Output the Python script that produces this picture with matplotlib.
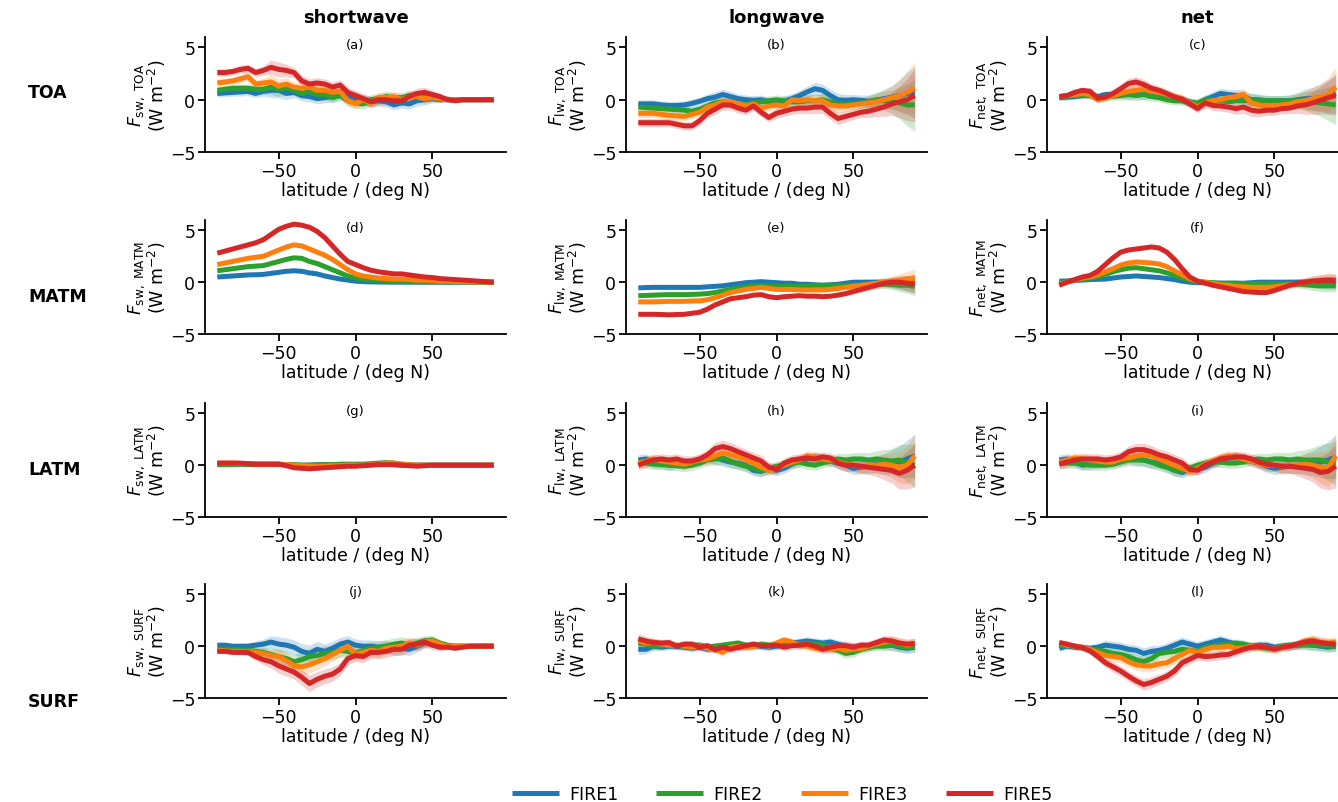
import matplotlib
matplotlib.use("Agg")
import matplotlib.pyplot as plt
import numpy as np

# ---------------- data ----------------
lat = list(range(-90, 91, 5))
series = ["FIRE1", "FIRE2", "FIRE3", "FIRE5"]
colors = ["#1f77b4", "#2ca02c", "#ff7f0e", "#d62728"]
columns = ["shortwave", "longwave", "net"]
rows = ["TOA", "MATM", "LATM", "SURF"]
comp_short = ["sw", "lw", "net"]
panel_letters = ["a", "b", "c", "d", "e", "f", "g", "h", "i", "j", "k", "l"]
yticks = [-5, 0, 5]
xticks = [-50, 0, 50]

# (a) SW TOA
a_F1 = [0.6,0.65,0.7,0.75,0.8,0.6,0.8,0.9,0.9,0.6,0.7,0.4,0.3,0.1,0.2,0.3,0.5,0.3,0.2,0.0,-0.2,-0.1,-0.2,-0.5,-0.3,-0.4,-0.1,0.0,0.1,0.0,0.0,0.0,0.0,0.0,0.0,0.0,0.0]
a_F2 = [0.9,1.0,1.1,1.1,1.1,1.0,1.0,1.2,1.0,1.1,0.9,0.6,0.8,0.5,0.5,0.2,0.4,-0.1,-0.3,-0.4,0.0,0.1,0.3,0.2,0.2,0.4,0.3,0.3,0.2,0.1,0.05,0.0,0.0,0.0,0.0,0.0,0.0]
a_F3 = [1.6,1.7,1.8,2.0,2.2,1.5,1.6,1.7,1.3,1.5,1.2,1.1,1.2,0.9,0.9,0.7,0.8,-0.1,-0.4,0.0,-0.3,0.2,0.2,0.3,0.0,0.3,0.3,0.1,0.2,0.1,0.0,0.0,0.0,0.0,0.0,0.0,0.0]
a_F5 = [2.6,2.6,2.7,2.9,3.0,2.6,2.8,3.1,2.9,2.8,2.6,1.8,1.5,1.6,1.5,1.2,1.4,0.7,0.4,0.1,-0.2,0.0,0.0,-0.1,-0.1,0.3,0.6,0.7,0.5,0.3,0.0,-0.1,0.0,0.0,0.0,0.0,0.0]
a_spread = [0.35,0.35,0.35,0.4,0.4,0.4,0.45,0.7,0.7,0.6,0.5,0.5,0.5,0.5,0.5,0.5,0.5,0.5,0.5,0.5,0.5,0.5,0.5,0.5,0.5,0.5,0.5,0.5,0.4,0.3,0.15,0.08,0.04,0.02,0.02,0.02,0.02]

# (b) LW TOA
b_F1 = [-0.4,-0.4,-0.4,-0.5,-0.55,-0.55,-0.5,-0.35,-0.15,0.1,0.25,0.5,0.3,0.1,0.0,-0.05,0.0,-0.2,-0.4,-0.15,0.1,0.4,0.75,1.05,0.9,0.4,0.0,-0.05,0.0,-0.05,-0.15,-0.05,0.1,0.25,0.4,0.6,0.7]
b_F2 = [-0.7,-0.75,-0.8,-0.85,-0.9,-0.95,-1.0,-1.1,-0.9,-0.6,-0.3,-0.2,-0.3,-0.4,-0.5,-0.3,-0.2,-0.1,0.0,-0.1,-0.2,-0.2,-0.1,-0.1,0.0,-0.2,-0.4,-0.4,-0.4,-0.3,-0.2,0.0,-0.1,-0.2,-0.3,-0.5,-0.5]
b_F3 = [-1.3,-1.3,-1.3,-1.4,-1.5,-1.55,-1.6,-1.4,-1.2,-0.7,-0.5,-0.2,-0.2,-0.4,-0.6,-0.4,-0.8,-0.6,-0.5,-0.6,0.0,-0.1,0.0,-0.1,-0.1,-0.5,-0.6,-0.6,-0.5,-0.4,-0.3,-0.2,0.0,0.2,0.4,0.7,1.1]
b_F5 = [-2.2,-2.2,-2.2,-2.2,-2.2,-2.35,-2.5,-2.5,-2.0,-1.3,-0.9,-0.5,-0.5,-0.8,-1.0,-0.6,-1.2,-1.7,-1.3,-1.1,-0.9,-0.8,-0.8,-0.7,-0.7,-1.3,-1.8,-1.6,-1.4,-1.2,-1.1,-0.9,-0.7,-0.4,-0.2,0.0,0.4]
b_spread = [0.4,0.4,0.4,0.4,0.4,0.4,0.4,0.4,0.4,0.45,0.5,0.5,0.5,0.45,0.45,0.45,0.45,0.45,0.45,0.5,0.5,0.5,0.55,0.6,0.6,0.6,0.6,0.55,0.5,0.5,0.6,0.7,0.9,1.1,1.5,2.0,2.5]

# (c) net TOA
c_F1 = [0.2,0.25,0.3,0.4,0.5,0.3,0.5,0.5,0.6,0.5,0.6,0.5,0.6,0.4,0.3,0.1,0.0,-0.2,-0.4,0.0,0.3,0.6,0.5,0.4,0.3,0.0,0.0,-0.1,-0.1,-0.1,-0.1,0.0,0.1,0.1,0.2,0.3,0.6]
c_F2 = [0.3,0.35,0.4,0.4,0.4,0.1,0.3,0.35,0.4,0.5,0.4,0.5,0.3,0.2,0.0,-0.1,-0.1,-0.3,-0.3,0.0,0.0,-0.1,-0.2,-0.1,-0.1,0.0,-0.1,-0.1,-0.1,-0.1,-0.1,-0.1,-0.1,-0.2,-0.3,-0.4,-0.5]
c_F3 = [0.3,0.4,0.5,0.6,0.5,0.0,0.2,0.4,0.6,0.8,0.9,1.0,0.8,0.7,0.5,0.3,0.1,-0.3,-0.7,-0.3,-0.1,0.0,0.2,0.3,0.5,-0.3,-0.5,-0.6,-0.6,-0.5,-0.4,-0.2,-0.1,0.1,0.2,0.5,1.2]
c_F5 = [0.3,0.4,0.7,0.9,0.8,0.15,0.25,0.6,1.05,1.55,1.7,1.45,1.1,0.9,0.6,0.25,0.05,-0.4,-0.85,-0.3,-0.55,-0.6,-0.7,-0.85,-0.7,-1.0,-1.1,-1.0,-1.0,-0.85,-0.8,-0.6,-0.5,-0.3,-0.05,0.2,0.4]
c_spread = [0.3,0.3,0.3,0.3,0.35,0.35,0.35,0.4,0.45,0.5,0.5,0.5,0.45,0.4,0.4,0.4,0.4,0.4,0.4,0.45,0.5,0.5,0.5,0.55,0.6,0.6,0.55,0.5,0.5,0.5,0.55,0.7,0.9,1.1,1.3,1.6,1.9]

# (d) SW MATM
d_F1 = [0.5,0.55,0.6,0.65,0.7,0.72,0.75,0.85,0.95,1.05,1.1,1.05,0.9,0.8,0.6,0.45,0.3,0.2,0.1,0.05,0.03,0.02,0.01,0.0,0.0,0.0,0.0,0.0,0.0,0.0,0.0,0.0,0.0,0.0,0.0,0.0,0.0]
d_F2 = [1.1,1.2,1.3,1.4,1.5,1.55,1.6,1.8,2.0,2.2,2.35,2.3,2.0,1.8,1.5,1.2,0.9,0.6,0.4,0.3,0.2,0.2,0.15,0.1,0.08,0.06,0.05,0.04,0.03,0.02,0.02,0.01,0.01,0.0,0.0,0.0,0.0]
d_F3 = [1.7,1.85,2.0,2.15,2.3,2.4,2.5,2.8,3.1,3.4,3.6,3.5,3.2,2.9,2.6,2.2,1.7,1.2,0.8,0.6,0.5,0.4,0.35,0.3,0.3,0.25,0.2,0.2,0.15,0.1,0.1,0.07,0.05,0.03,0.02,0.01,0.0]
d_F5 = [2.8,3.0,3.2,3.4,3.6,3.8,4.1,4.6,5.1,5.4,5.6,5.5,5.3,4.9,4.3,3.5,2.7,2.0,1.7,1.4,1.15,1.0,0.9,0.8,0.8,0.7,0.6,0.5,0.45,0.35,0.3,0.25,0.2,0.15,0.1,0.05,0.0]
d_spread = [0.15,0.15,0.15,0.15,0.15,0.15,0.15,0.15,0.15,0.15,0.15,0.15,0.15,0.15,0.15,0.15,0.15,0.15,0.15,0.12,0.1,0.1,0.08,0.08,0.06,0.06,0.05,0.05,0.05,0.05,0.05,0.05,0.05,0.05,0.05,0.05,0.05]

# (e) LW MATM
e_F1 = [-0.55,-0.52,-0.5,-0.5,-0.5,-0.5,-0.5,-0.5,-0.5,-0.45,-0.4,-0.35,-0.25,-0.15,-0.05,0.0,0.05,0.0,-0.05,-0.1,-0.1,-0.2,-0.2,-0.25,-0.3,-0.25,-0.2,-0.1,0.0,0.0,0.0,0.0,0.0,-0.05,-0.1,-0.1,-0.1]
e_F2 = [-1.3,-1.28,-1.25,-1.22,-1.2,-1.2,-1.2,-1.18,-1.15,-1.1,-1.0,-0.85,-0.7,-0.55,-0.45,-0.35,-0.3,-0.35,-0.4,-0.4,-0.4,-0.4,-0.35,-0.3,-0.3,-0.3,-0.3,-0.3,-0.3,-0.3,-0.25,-0.2,-0.2,-0.2,-0.3,-0.3,-0.4]
e_F3 = [-1.9,-1.9,-1.9,-1.88,-1.85,-1.85,-1.85,-1.82,-1.8,-1.7,-1.5,-1.25,-1.0,-0.85,-0.7,-0.6,-0.5,-0.6,-0.7,-0.7,-0.7,-0.75,-0.75,-0.75,-0.75,-0.7,-0.6,-0.5,-0.4,-0.3,-0.2,-0.1,0.0,0.1,0.2,0.3,0.35]
e_F5 = [-3.1,-3.1,-3.1,-3.12,-3.15,-3.12,-3.1,-3.0,-2.9,-2.6,-2.2,-1.9,-1.6,-1.5,-1.4,-1.25,-1.2,-1.4,-1.5,-1.4,-1.35,-1.3,-1.35,-1.35,-1.4,-1.35,-1.25,-1.1,-0.9,-0.7,-0.5,-0.3,-0.1,0.0,0.0,-0.1,-0.2]
e_spread = [0.1,0.1,0.1,0.1,0.1,0.1,0.1,0.1,0.1,0.1,0.12,0.12,0.12,0.12,0.12,0.12,0.12,0.12,0.15,0.15,0.15,0.15,0.15,0.15,0.15,0.18,0.2,0.22,0.25,0.28,0.3,0.35,0.4,0.5,0.6,0.75,0.9]

# (f) net MATM
f_F1 = [0.1,0.12,0.15,0.2,0.25,0.28,0.3,0.4,0.5,0.55,0.6,0.55,0.5,0.45,0.35,0.25,0.1,0.0,-0.05,-0.05,-0.1,-0.1,-0.1,-0.1,-0.1,-0.05,0.0,0.0,0.0,0.0,0.0,0.0,0.0,-0.05,-0.1,-0.1,-0.1]
f_F2 = [-0.1,0.05,0.2,0.3,0.4,0.5,0.75,1.0,1.2,1.35,1.4,1.3,1.2,1.1,0.9,0.65,0.4,0.2,0.05,0.0,-0.05,-0.1,-0.1,-0.1,-0.15,-0.15,-0.15,-0.15,-0.15,-0.15,-0.2,-0.2,-0.25,-0.3,-0.35,-0.35,-0.35]
f_F3 = [-0.2,0.0,0.2,0.4,0.5,0.7,1.0,1.3,1.65,1.85,1.95,1.9,1.85,1.75,1.5,1.1,0.7,0.35,0.1,0.0,-0.15,-0.25,-0.3,-0.4,-0.45,-0.5,-0.5,-0.5,-0.45,-0.35,-0.25,-0.15,0.0,0.1,0.2,0.25,0.25]
f_F5 = [-0.3,0.0,0.25,0.5,0.65,1.05,1.7,2.35,2.9,3.1,3.2,3.3,3.4,3.3,2.9,2.2,1.3,0.5,0.1,-0.1,-0.3,-0.45,-0.6,-0.75,-0.9,-0.95,-1.0,-1.0,-0.8,-0.55,-0.3,-0.1,0.0,0.1,0.15,0.2,0.15]
f_spread = [0.1,0.1,0.1,0.1,0.1,0.1,0.1,0.1,0.12,0.12,0.12,0.12,0.12,0.12,0.12,0.12,0.12,0.12,0.12,0.12,0.12,0.12,0.12,0.12,0.15,0.15,0.15,0.18,0.2,0.25,0.3,0.35,0.4,0.5,0.55,0.6,0.6]

# (g) SW LATM
g_F1 = [0.1,0.1,0.1,0.1,0.05,0.05,0.05,0.05,0.05,0.05,0.0,0.0,0.0,0.05,0.05,0.05,0.05,0.0,0.0,0.0,0.05,0.1,0.1,0.05,0.0,0.0,0.0,0.0,0.0,0.0,0.0,0.0,0.0,0.0,0.0,0.0,0.0]
g_F2 = [0.05,0.05,0.05,0.1,0.1,0.1,0.1,0.1,0.1,0.05,0.05,0.0,0.0,0.0,0.05,0.05,0.1,0.1,0.1,0.1,0.15,0.2,0.25,0.2,0.1,0.05,0.0,0.0,0.0,0.0,0.0,0.0,0.0,0.0,0.0,0.0,0.0]
g_F3 = [0.2,0.2,0.2,0.15,0.15,0.1,0.1,0.1,0.1,0.05,0.0,-0.05,-0.1,-0.1,-0.1,-0.05,-0.05,0.0,0.0,0.0,0.05,0.1,0.2,0.2,0.1,0.05,0.0,0.0,0.0,0.0,0.0,0.0,0.0,0.0,0.0,0.0,0.0]
g_F5 = [0.2,0.2,0.2,0.2,0.15,0.1,0.1,0.1,0.1,-0.05,-0.25,-0.3,-0.35,-0.3,-0.25,-0.2,-0.15,-0.1,-0.1,-0.05,0.0,0.05,0.05,0.05,0.0,-0.05,-0.1,-0.05,0.0,0.0,0.0,0.0,0.0,0.0,0.0,0.0,0.0]
g_spread = [0.2,0.2,0.2,0.2,0.15,0.15,0.15,0.15,0.15,0.15,0.15,0.15,0.15,0.15,0.15,0.15,0.15,0.15,0.15,0.15,0.15,0.15,0.15,0.15,0.1,0.1,0.1,0.1,0.08,0.06,0.05,0.04,0.03,0.03,0.03,0.03,0.03]

# (h) LW LATM
h_F1 = [0.5,0.6,0.2,0.2,0.0,0.2,0.1,0.3,0.4,0.8,0.7,0.5,0.3,0.2,0.0,-0.5,-0.6,-0.3,-0.5,-0.3,0.1,0.4,0.6,0.8,0.6,0.4,0.2,0.0,-0.3,-0.2,-0.1,0.1,0.1,0.3,0.3,0.6,0.9]
h_F2 = [0.3,0.2,0.1,0.05,0.0,-0.05,-0.1,0.0,0.2,0.5,0.6,0.7,0.4,0.1,-0.1,-0.3,-0.5,-0.4,-0.1,0.0,0.2,0.3,0.1,0.0,0.2,0.4,0.6,0.5,0.6,0.6,0.5,0.6,0.5,0.4,0.5,0.2,0.0]
h_F3 = [0.2,0.4,0.6,0.4,0.3,0.2,0.1,0.3,0.5,0.6,0.9,1.2,1.0,0.8,0.5,0.2,-0.2,-0.5,-0.3,0.0,0.3,0.5,0.9,0.8,0.6,0.5,0.3,0.1,0.0,-0.1,0.0,0.0,0.1,0.0,-0.2,0.0,0.9]
h_F5 = [0.0,0.3,0.5,0.6,0.5,0.6,0.4,0.4,0.6,1.0,1.6,1.8,1.6,1.3,1.0,0.7,0.4,-0.2,-0.4,0.2,0.5,0.6,0.7,0.6,0.8,0.7,0.2,0.0,0.0,-0.1,-0.2,-0.3,-0.4,-0.5,-0.8,-0.5,0.0]
h_spread = [0.5,0.5,0.5,0.5,0.5,0.5,0.5,0.5,0.5,0.55,0.6,0.6,0.6,0.55,0.55,0.55,0.55,0.5,0.5,0.5,0.5,0.5,0.5,0.5,0.5,0.5,0.55,0.6,0.6,0.65,0.7,0.8,1.0,1.2,1.5,1.8,2.1]

# (i) net LATM
i_F1 = [0.5,0.6,0.3,0.0,0.1,0.2,0.2,0.3,0.4,0.7,0.6,0.5,0.3,0.2,-0.1,-0.5,-0.7,-0.4,-0.4,-0.2,0.2,0.5,0.7,0.8,0.6,0.4,0.2,-0.1,-0.3,-0.2,-0.1,0.0,0.1,0.2,0.3,0.5,0.8]
i_F2 = [0.2,0.2,0.2,0.1,0.0,0.0,0.0,0.1,0.3,0.5,0.5,0.5,0.3,0.0,-0.2,-0.5,-0.5,-0.3,0.0,0.2,0.3,0.3,0.2,0.2,0.3,0.5,0.6,0.5,0.6,0.6,0.5,0.6,0.5,0.5,0.5,0.3,0.2]
i_F3 = [0.3,0.5,0.7,0.6,0.5,0.4,0.3,0.3,0.6,0.7,0.9,1.0,0.9,0.6,0.3,0.0,-0.3,-0.6,-0.3,0.1,0.4,0.7,0.9,0.8,0.6,0.4,0.2,0.0,0.0,-0.1,0.0,0.0,0.1,0.0,-0.2,-0.3,0.9]
i_F5 = [0.1,0.3,0.5,0.6,0.6,0.6,0.5,0.6,0.8,1.3,1.5,1.5,1.3,1.0,0.8,0.5,0.2,-0.4,-0.5,0.0,0.3,0.6,0.7,0.8,0.8,0.6,0.3,0.1,0.0,-0.1,-0.1,-0.2,-0.3,-0.4,-0.7,-0.6,-0.1]
i_spread = [0.5,0.5,0.5,0.5,0.5,0.5,0.5,0.5,0.5,0.55,0.6,0.6,0.6,0.55,0.55,0.55,0.55,0.5,0.5,0.5,0.5,0.5,0.5,0.5,0.5,0.5,0.55,0.6,0.6,0.65,0.7,0.8,1.0,1.2,1.5,1.8,2.1]

# (j) SW SURF
j_F1 = [0.1,0.1,0.0,0.0,0.0,0.1,0.2,0.4,0.2,0.1,-0.1,-0.5,-0.7,-0.3,-0.5,-0.2,0.2,0.4,0.1,0.0,0.0,-0.1,0.0,-0.3,-0.2,-0.3,0.0,0.3,0.4,0.0,0.0,0.0,0.0,0.0,0.0,0.0,0.0]
j_F2 = [-0.3,-0.3,-0.3,-0.35,-0.4,-0.5,-0.6,-0.8,-1.0,-1.2,-1.5,-1.3,-1.0,-0.9,-0.7,-0.6,-0.4,-0.5,-0.7,-0.4,-0.2,-0.1,0.0,0.2,0.3,0.1,0.3,0.5,0.6,0.3,0.1,0.0,0.0,0.0,0.0,0.0,0.0]
j_F3 = [-0.4,-0.45,-0.5,-0.5,-0.5,-0.6,-0.7,-0.9,-1.0,-1.4,-1.9,-2.0,-1.8,-1.5,-1.2,-0.8,-0.4,0.0,-0.8,-0.6,-0.4,-0.5,-0.2,-0.1,0.0,0.3,0.1,0.4,0.5,0.2,0.0,0.0,0.0,0.0,0.0,0.0,0.0]
j_F5 = [-0.5,-0.5,-0.6,-0.6,-0.6,-1.0,-1.3,-1.5,-1.9,-2.2,-2.5,-3.0,-3.6,-3.2,-2.9,-2.7,-2.2,-1.2,-0.9,-1.0,-0.6,-0.6,-0.5,-0.3,-0.3,0.1,0.2,0.4,0.1,-0.1,-0.1,-0.2,-0.1,0.0,0.0,0.0,0.0]
j_spread = [0.2,0.2,0.2,0.25,0.3,0.4,0.5,0.6,0.7,0.7,0.7,0.75,0.8,0.75,0.7,0.7,0.65,0.6,0.6,0.6,0.6,0.6,0.6,0.6,0.6,0.6,0.55,0.5,0.45,0.35,0.25,0.15,0.1,0.05,0.04,0.03,0.03]

# (k) LW SURF
k_F1 = [-0.3,-0.3,0.0,-0.1,0.0,0.0,-0.1,-0.2,-0.1,-0.3,-0.2,0.0,0.0,-0.1,0.0,0.1,0.0,-0.1,0.0,0.2,0.3,0.4,0.5,0.4,0.3,0.4,0.2,0.0,-0.1,-0.2,-0.1,0.1,0.2,0.1,-0.1,-0.2,-0.1]
k_F2 = [0.3,0.2,0.0,0.05,0.1,0.05,0.0,0.1,0.1,-0.1,0.0,0.1,0.2,0.3,0.1,0.0,0.2,0.1,0.2,0.3,0.3,0.2,0.3,0.2,0.1,-0.2,-0.4,-0.7,-0.6,-0.3,-0.1,0.0,0.0,0.1,0.0,-0.1,0.0]
k_F3 = [0.5,0.3,0.4,0.2,0.1,0.1,0.0,-0.1,0.0,-0.2,-0.3,-0.6,-0.1,0.0,-0.1,0.0,0.1,0.0,0.3,0.6,0.4,0.1,0.0,-0.2,-0.3,-0.3,-0.2,-0.4,-0.3,-0.2,0.0,0.2,0.4,0.5,0.3,0.1,0.3]
k_F5 = [0.7,0.5,0.35,0.3,0.35,0.0,0.2,0.2,-0.1,0.05,-0.35,-0.1,-0.3,-0.1,0.05,0.2,0.05,0.05,0.1,-0.1,0.05,0.1,0.2,0.0,-0.3,-0.1,0.05,0.05,-0.1,0.1,0.1,0.35,0.6,0.5,0.3,0.2,0.25]
k_spread = [0.5,0.45,0.4,0.35,0.35,0.35,0.35,0.35,0.35,0.35,0.35,0.35,0.35,0.35,0.35,0.35,0.35,0.35,0.35,0.35,0.35,0.4,0.4,0.4,0.4,0.4,0.4,0.45,0.45,0.4,0.4,0.4,0.45,0.5,0.5,0.5,0.5]

# (l) net SURF
l_F1 = [-0.2,0.0,-0.1,-0.1,-0.2,-0.1,0.1,0.0,-0.1,-0.3,-0.4,-0.7,-0.5,-0.4,-0.2,0.1,0.4,0.2,0.0,0.2,0.4,0.6,0.4,0.2,0.1,0.0,0.1,0.1,-0.1,0.0,0.0,0.1,0.2,0.1,0.0,-0.1,0.0]
l_F2 = [0.1,0.05,0.0,-0.15,-0.3,-0.4,-0.5,-0.7,-0.8,-1.0,-1.3,-1.5,-1.2,-0.7,-0.6,-0.5,-0.3,-0.4,-0.5,-0.1,0.0,0.1,0.2,0.3,0.2,0.0,-0.1,-0.2,-0.2,0.0,0.1,0.1,0.1,0.1,0.1,0.0,0.0]
l_F3 = [0.3,0.1,0.0,-0.1,-0.3,-0.6,-0.9,-1.0,-1.1,-1.5,-1.8,-1.9,-1.9,-1.7,-1.6,-1.2,-0.8,-0.4,-0.6,-0.3,-0.1,-0.1,0.0,-0.2,-0.2,0.0,0.0,-0.1,-0.3,-0.1,0.0,0.2,0.5,0.6,0.4,0.3,0.4]
l_F5 = [0.35,0.2,0.0,-0.15,-0.45,-1.0,-1.6,-2.0,-2.4,-2.9,-3.35,-3.7,-3.5,-3.2,-2.9,-2.4,-1.6,-1.25,-0.9,-1.0,-0.95,-0.85,-0.8,-0.55,-0.3,-0.1,0.0,-0.1,-0.3,-0.1,0.0,0.2,0.4,0.5,0.35,0.25,0.2]
l_spread = [0.3,0.3,0.3,0.3,0.35,0.4,0.45,0.5,0.5,0.5,0.5,0.55,0.55,0.5,0.5,0.5,0.5,0.45,0.45,0.45,0.45,0.45,0.4,0.4,0.4,0.4,0.4,0.4,0.4,0.4,0.4,0.4,0.45,0.5,0.5,0.5,0.5]

panels = [
    ([a_F1, a_F2, a_F3, a_F5], a_spread),
    ([b_F1, b_F2, b_F3, b_F5], b_spread),
    ([c_F1, c_F2, c_F3, c_F5], c_spread),
    ([d_F1, d_F2, d_F3, d_F5], d_spread),
    ([e_F1, e_F2, e_F3, e_F5], e_spread),
    ([f_F1, f_F2, f_F3, f_F5], f_spread),
    ([g_F1, g_F2, g_F3, g_F5], g_spread),
    ([h_F1, h_F2, h_F3, h_F5], h_spread),
    ([i_F1, i_F2, i_F3, i_F5], i_spread),
    ([j_F1, j_F2, j_F3, j_F5], j_spread),
    ([k_F1, k_F2, k_F3, k_F5], k_spread),
    ([l_F1, l_F2, l_F3, l_F5], l_spread),
]

# ---------------- layout ----------------
W, H = 1338, 803
fig = plt.figure(figsize=(W / 100, H / 100), dpi=100)
plt.rcParams['font.family'] = ['DejaVu Sans']

col_left = [205, 626, 1047]
ax_w = 301
row_top = [38, 221, 404, 585]
row_bot = [153, 335, 518, 699]

FS = 12.5
lat_arr = np.array(lat)
handles = []
for r in range(4):
    for c in range(3):
        idx = r * 3 + c
        l, t, b = col_left[c], row_top[r], row_bot[r]
        ax = fig.add_axes([l / W, 1 - b / H, ax_w / W, (b - t) / H])
        vals, spread = panels[idx]
        sp = np.array(spread)
        for s, (v, col) in enumerate(zip(vals, colors)):
            v = np.array(v)
            ax.fill_between(lat_arr, v - sp, v + sp, color=col, alpha=0.22, lw=0)
            ln, = ax.plot(lat_arr, v, color=col, lw=3.6, solid_capstyle='butt',
                          solid_joinstyle='round')
            if idx == 0:
                handles.append(ln)
        ax.set_xlim(-98, 98)
        ax.set_ylim(-5, 6)
        ax.set_xticks(xticks)
        ax.set_yticks(yticks)
        ax.set_xticklabels(["\u221250", "0", "50"])
        ax.set_yticklabels(["\u22125", "0", "5"])
        for sname in ["top", "right"]:
            ax.spines[sname].set_visible(False)
        for sname in ["left", "bottom"]:
            ax.spines[sname].set_linewidth(1.3)
        ax.tick_params(axis='both', labelsize=FS, length=5, width=1.3, pad=2)
        ax.set_xlabel("latitude / (deg N)", fontsize=FS, labelpad=1)
        ax.set_ylabel(r"$F_{\mathrm{%s,\ %s}}$" % (comp_short[c], rows[r]) + "\n" + r"(W m$^{-2}$)",
                      fontsize=FS, labelpad=1, linespacing=0.95)
        ax.text(0.5, 0.935, "(%s)" % panel_letters[idx], transform=ax.transAxes,
                ha='center', va='center', fontsize=9.5)

# column titles
for c in range(3):
    fig.text((col_left[c] + ax_w / 2) / W, 1 - 18 / H, columns[c], ha='center', va='center',
             fontsize=13, fontweight='bold')

# row labels
row_label_y = [93, 297, 470, 702]
for r in range(4):
    fig.text(28 / W, 1 - row_label_y[r] / H, rows[r], ha='left', va='center',
             fontsize=12.5, fontweight='bold')

fig.legend(handles, series, loc='center', bbox_to_anchor=(782 / W, 1 - 795 / H), ncol=4,
           frameon=False, fontsize=FS, handlelength=2.7, handletextpad=0.6, columnspacing=2.2)

fig.savefig("out.png", dpi=100)
